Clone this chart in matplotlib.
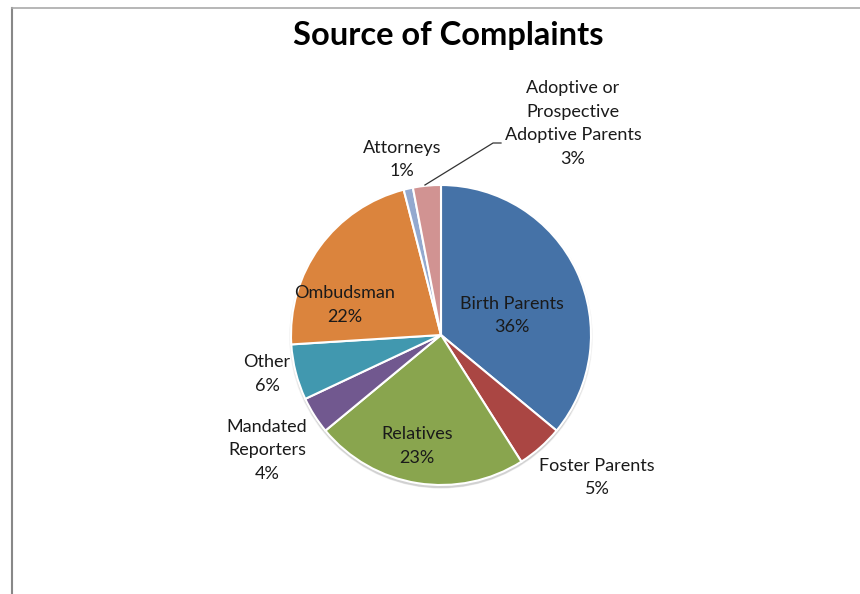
import matplotlib.pyplot as plt
from matplotlib.patches import Circle
from matplotlib.lines import Line2D

# complaint sources, clockwise from 12 o'clock
sources = ["Birth Parents", "Foster Parents", "Relatives", "Mandated\nReporters",
           "Other", "Ombudsman", "Attorneys", "Adoptive or\nProspective\nAdoptive Parents"]
shares = [36, 5, 23, 4, 6, 22, 1, 3]
colors = ["#4572A7", "#AA4643", "#89A54E", "#71588F",
          "#4198AF", "#DB843D", "#93A9CF", "#D19392"]

# label anchor offsets in pie radii (x right, y up from the centre)
label_pos = [(0.47, 0.13), (1.04, -0.95), (-0.16, -0.74), (-1.16, -0.77),
             (-1.16, -0.26), (-0.64, 0.20), (-0.26, 1.17), (0.88, 1.41)]

plt.rcParams["font.family"] = ["Lato", "DejaVu Sans"]

fig = plt.figure(figsize=(8.6, 5.94), dpi=100)

# thin grey frame on the left and top
fig.add_artist(Line2D([12 / 860, 12 / 860], [0, 1 - 8 / 594], color="#888888", lw=1.5,
                      transform=fig.transFigure))
fig.add_artist(Line2D([12 / 860, 1], [1 - 8 / 594, 1 - 8 / 594], color="#aaaaaa", lw=1.2,
                      transform=fig.transFigure))

fig.text(448 / 860, 1 - 35 / 594, "Source of Complaints", ha="center", va="center",
         fontsize=23.5, fontweight="bold")

ax = fig.add_axes([291 / 860, 109 / 594, 300 / 860, 300 / 594])
ax.set_xlim(-1.0, 1.0)
ax.set_ylim(-1.0, 1.0)
ax.set_aspect("equal")
ax.axis("off")

# soft shadow under the pie
for k, a in enumerate([0.05, 0.06, 0.08]):
    ax.add_patch(Circle((0.0, -0.012 - 0.004 * k), 1.0 + 0.012 - 0.006 * k,
                        color="#000000", alpha=a, zorder=0, lw=0, clip_on=False))

ax.pie(shares, colors=colors, startangle=90, counterclock=False, radius=1.0,
       wedgeprops=dict(edgecolor="white", linewidth=1.5))
ax.set_xlim(-1.0, 1.0)
ax.set_ylim(-1.0, 1.0)

for name, val, (lx, ly) in zip(sources, shares, label_pos):
    ax.text(lx, ly, f"{name}\n{val}%", ha="center", va="center", fontsize=13,
            color="#1a1a1a", linespacing=1.6, clip_on=False)

# leader line for the thin adoptive-parents wedge
ax.plot([-0.107, 0.347, 0.40], [1.0, 1.28, 1.28], color="#333333", lw=0.9, clip_on=False)

fig.savefig("out.png", dpi=100)
